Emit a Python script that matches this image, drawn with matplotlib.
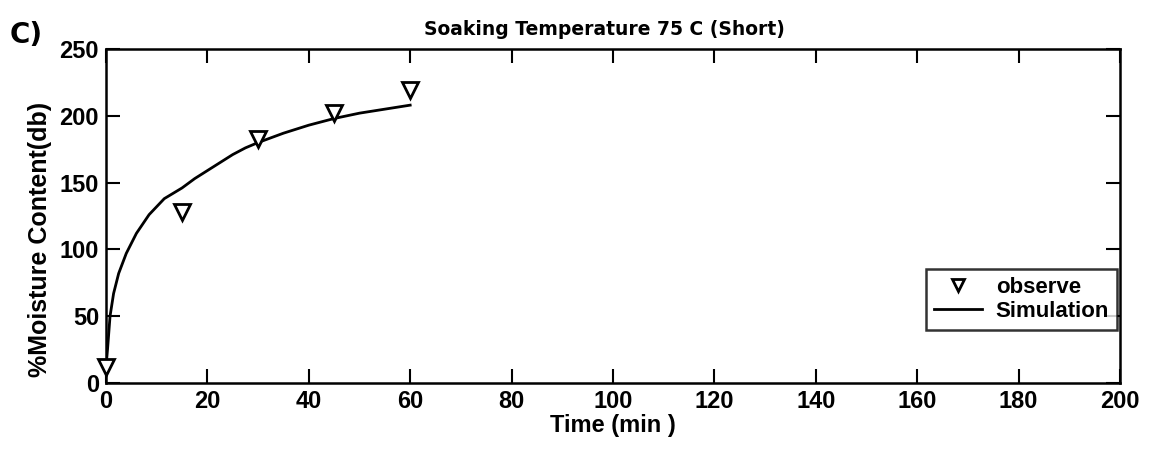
import matplotlib.pyplot as plt

# observed moisture content
obs_time = [0, 15, 30, 45, 60]
obs_moisture = [12, 128, 183, 202, 219]

# simulated curve
sim_time = [0, 0.3, 0.8, 1.5, 2.5, 4, 6, 8.5, 11.5, 15, 17.5, 20, 22.5, 25, 27.5, 30,
            35, 40, 45, 50, 55, 60]
sim_moisture = [12, 25, 50, 67, 82, 97, 112, 126, 138, 146, 153, 159, 165, 171, 176, 180,
                187, 193, 198, 202, 205, 208]

x_ticks = [0, 20, 40, 60, 80, 100, 120, 140, 160, 180, 200]
y_ticks = [0, 50, 100, 150, 200, 250]

plt.rcParams["font.family"] = ["Liberation Sans", "DejaVu Sans"]
plt.rcParams["font.weight"] = "bold"

fig = plt.figure(figsize=(11.66, 4.5), dpi=100)
ax = fig.add_axes([0.0909, 0.149, 0.8696, 0.742])

ax.plot(obs_time, obs_moisture, linestyle="none", marker="v", markersize=11,
        markerfacecolor="white", markeredgecolor="black", markeredgewidth=2,
        label="observe", zorder=3, clip_on=False)
ax.plot(sim_time, sim_moisture, color="black", linewidth=2, label="Simulation")

ax.set_xlim(0, 200)
ax.set_ylim(0, 250)
ax.set_xticks(x_ticks)
ax.set_yticks(y_ticks)
ax.tick_params(direction="in", length=10, width=1.5, top=True, right=True,
               labelsize=17, pad=5)
for lab in ax.get_xticklabels() + ax.get_yticklabels():
    lab.set_fontweight("bold")
for s in ax.spines.values():
    s.set_linewidth(1.8)

ax.set_xlabel("Time (min )", fontsize=17, fontweight="bold", labelpad=1)
ax.set_ylabel("%Moisture Content(db)", fontsize=18, fontweight="bold")
ax.yaxis.set_label_coords(-0.053, 0.43)
ax.set_title("Soaking Temperature 75 C (Short)", fontsize=13.5, fontweight="bold",
             family="DejaVu Sans", pad=10, x=0.492)
fig.text(0.008, 0.905, "C)", fontsize=20, fontweight="bold", family="DejaVu Sans")

leg = ax.legend(loc="lower right", bbox_to_anchor=(0.997, 0.159), fontsize=16,
                frameon=True, fancybox=False, edgecolor="black",
                handlelength=2.2, borderpad=0.35, labelspacing=0.15,
                handletextpad=0.6, markerscale=0.75, borderaxespad=0)
leg.get_frame().set_linewidth(1.8)
for t in leg.get_texts():
    t.set_fontweight("bold")

fig.savefig("out.png", dpi=100)
